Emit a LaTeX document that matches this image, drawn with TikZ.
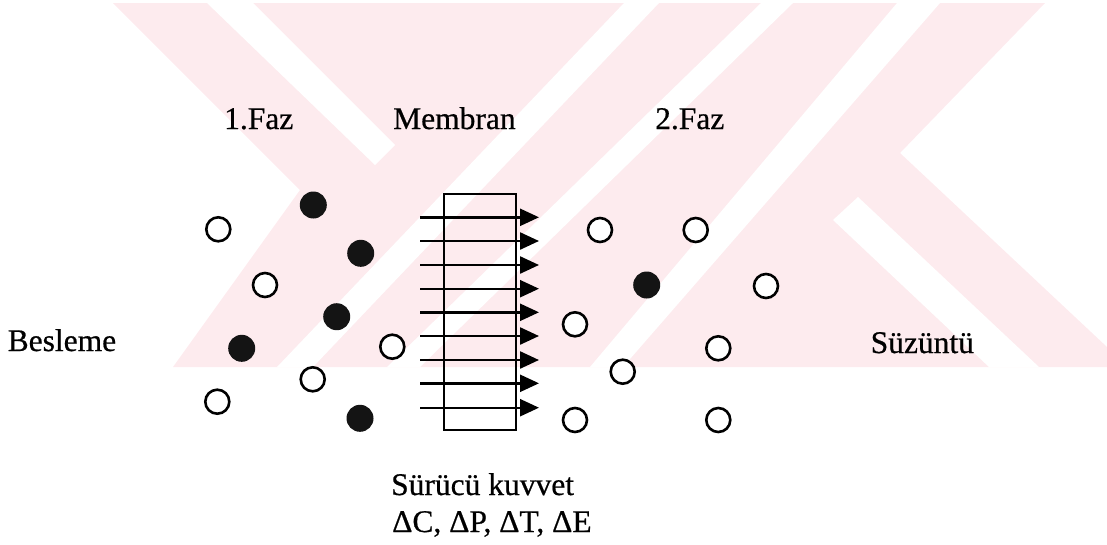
\documentclass[tikz,border=0pt]{standalone}
\usepackage{fontspec}
\setmainfont{Liberation Serif}[FakeBold=0.6]
\usetikzlibrary{arrows.meta}
\definecolor{wmpink}{RGB}{253,235,238}
\tikzset{
  x=1pt, y=-1pt,
  lbl/.style={anchor=base west, inner sep=0pt, font=\fontsize{31.5}{37}\selectfont},
  opendot/.style={circle, draw=black, line width=2.6pt, fill=white, minimum size=24pt, inner sep=0pt},
  fulldot/.style={circle, fill=black!92, draw=none, minimum size=27pt, inner sep=0pt},
  membox/.style={draw=black, line width=2.6pt, minimum width=72pt, minimum height=236pt, inner sep=0pt},
  flux/.style={line width=2.4pt, -{Triangle[length=19pt,width=17pt]}},
  wmband/.style={fill=white, draw=none}
}
\begin{document}
\begin{tikzpicture}
\useasboundingbox (0,0) rectangle (1107,544);
% watermark
\fill[wmpink] (113,3) -- (1045,3) -- (900,153) -- (1107,347) -- (1107,367) -- (173,367) -- (300,190) -- cycle;
\fill[wmband] (207,3) -- (253,3) -- (395,145) -- (375,165) -- cycle;
\fill[wmband] (624,3) -- (659,3) -- (313,367) -- (277,367) -- cycle;
\fill[wmband] (761,3) -- (793,3) -- (420,367) -- (387,367) -- cycle;
\fill[wmband] (897,3) -- (940,3) -- (623,367) -- (590,367) -- cycle;
\fill[wmband] (833,220) -- (858,197) -- (1039,367) -- (989,367) -- cycle;
% labels
\node[lbl] (faz1) at (224,129) {1.Faz};
\node[lbl] (memlbl) at (393,129) {Membran};
\node[lbl] (faz2) at (655,129) {2.Faz};
\node[lbl] (besleme) at (7.5,351) {Besleme};
\node[lbl] (suzuntu) at (870.5,353) {Süzüntü};
\node[lbl] (surucu) at (391,495) {Sürücü kuvvet};
\node[lbl] (delta) at (392,532) {ΔC, ΔP, ΔT, ΔE};
% membrane
\node[membox] (mem) at (480,312) {};
% flux arrows
\foreach \i/\yy in {1/217.3,2/241,3/265,4/288.7,5/312.3,6/336,7/360,8/383.3,9/407.7}{
  \coordinate (s\i) at (420,\yy);
  \coordinate (e\i) at (539,\yy);
  \draw[flux] (s\i) -- (e\i);
}
% phase 1 particles
\node[opendot] (a1) at (218.3,229.3) {};
\node[fulldot] (a2) at (313.3,205) {};
\node[fulldot] (a3) at (360.7,253.3) {};
\node[opendot] (a4) at (265,285) {};
\node[fulldot] (a5) at (336.7,316.7) {};
\node[fulldot] (a6) at (241.7,348.3) {};
\node[opendot] (a7) at (392.3,346.7) {};
\node[opendot] (a8) at (312.7,379.3) {};
\node[opendot] (a9) at (217.3,401.7) {};
\node[fulldot] (a10) at (360,418.3) {};
% phase 2 particles
\node[opendot] (b1) at (600,230) {};
\node[opendot] (b2) at (695.7,230) {};
\node[fulldot] (b3) at (646.7,285) {};
\node[opendot] (b4) at (766,286) {};
\node[opendot] (b5) at (575,324.3) {};
\node[opendot] (b6) at (718.3,348.3) {};
\node[opendot] (b7) at (622.7,371.7) {};
\node[opendot] (b8) at (575,420) {};
\node[opendot] (b9) at (718.3,420) {};
\end{tikzpicture}
\end{document}
